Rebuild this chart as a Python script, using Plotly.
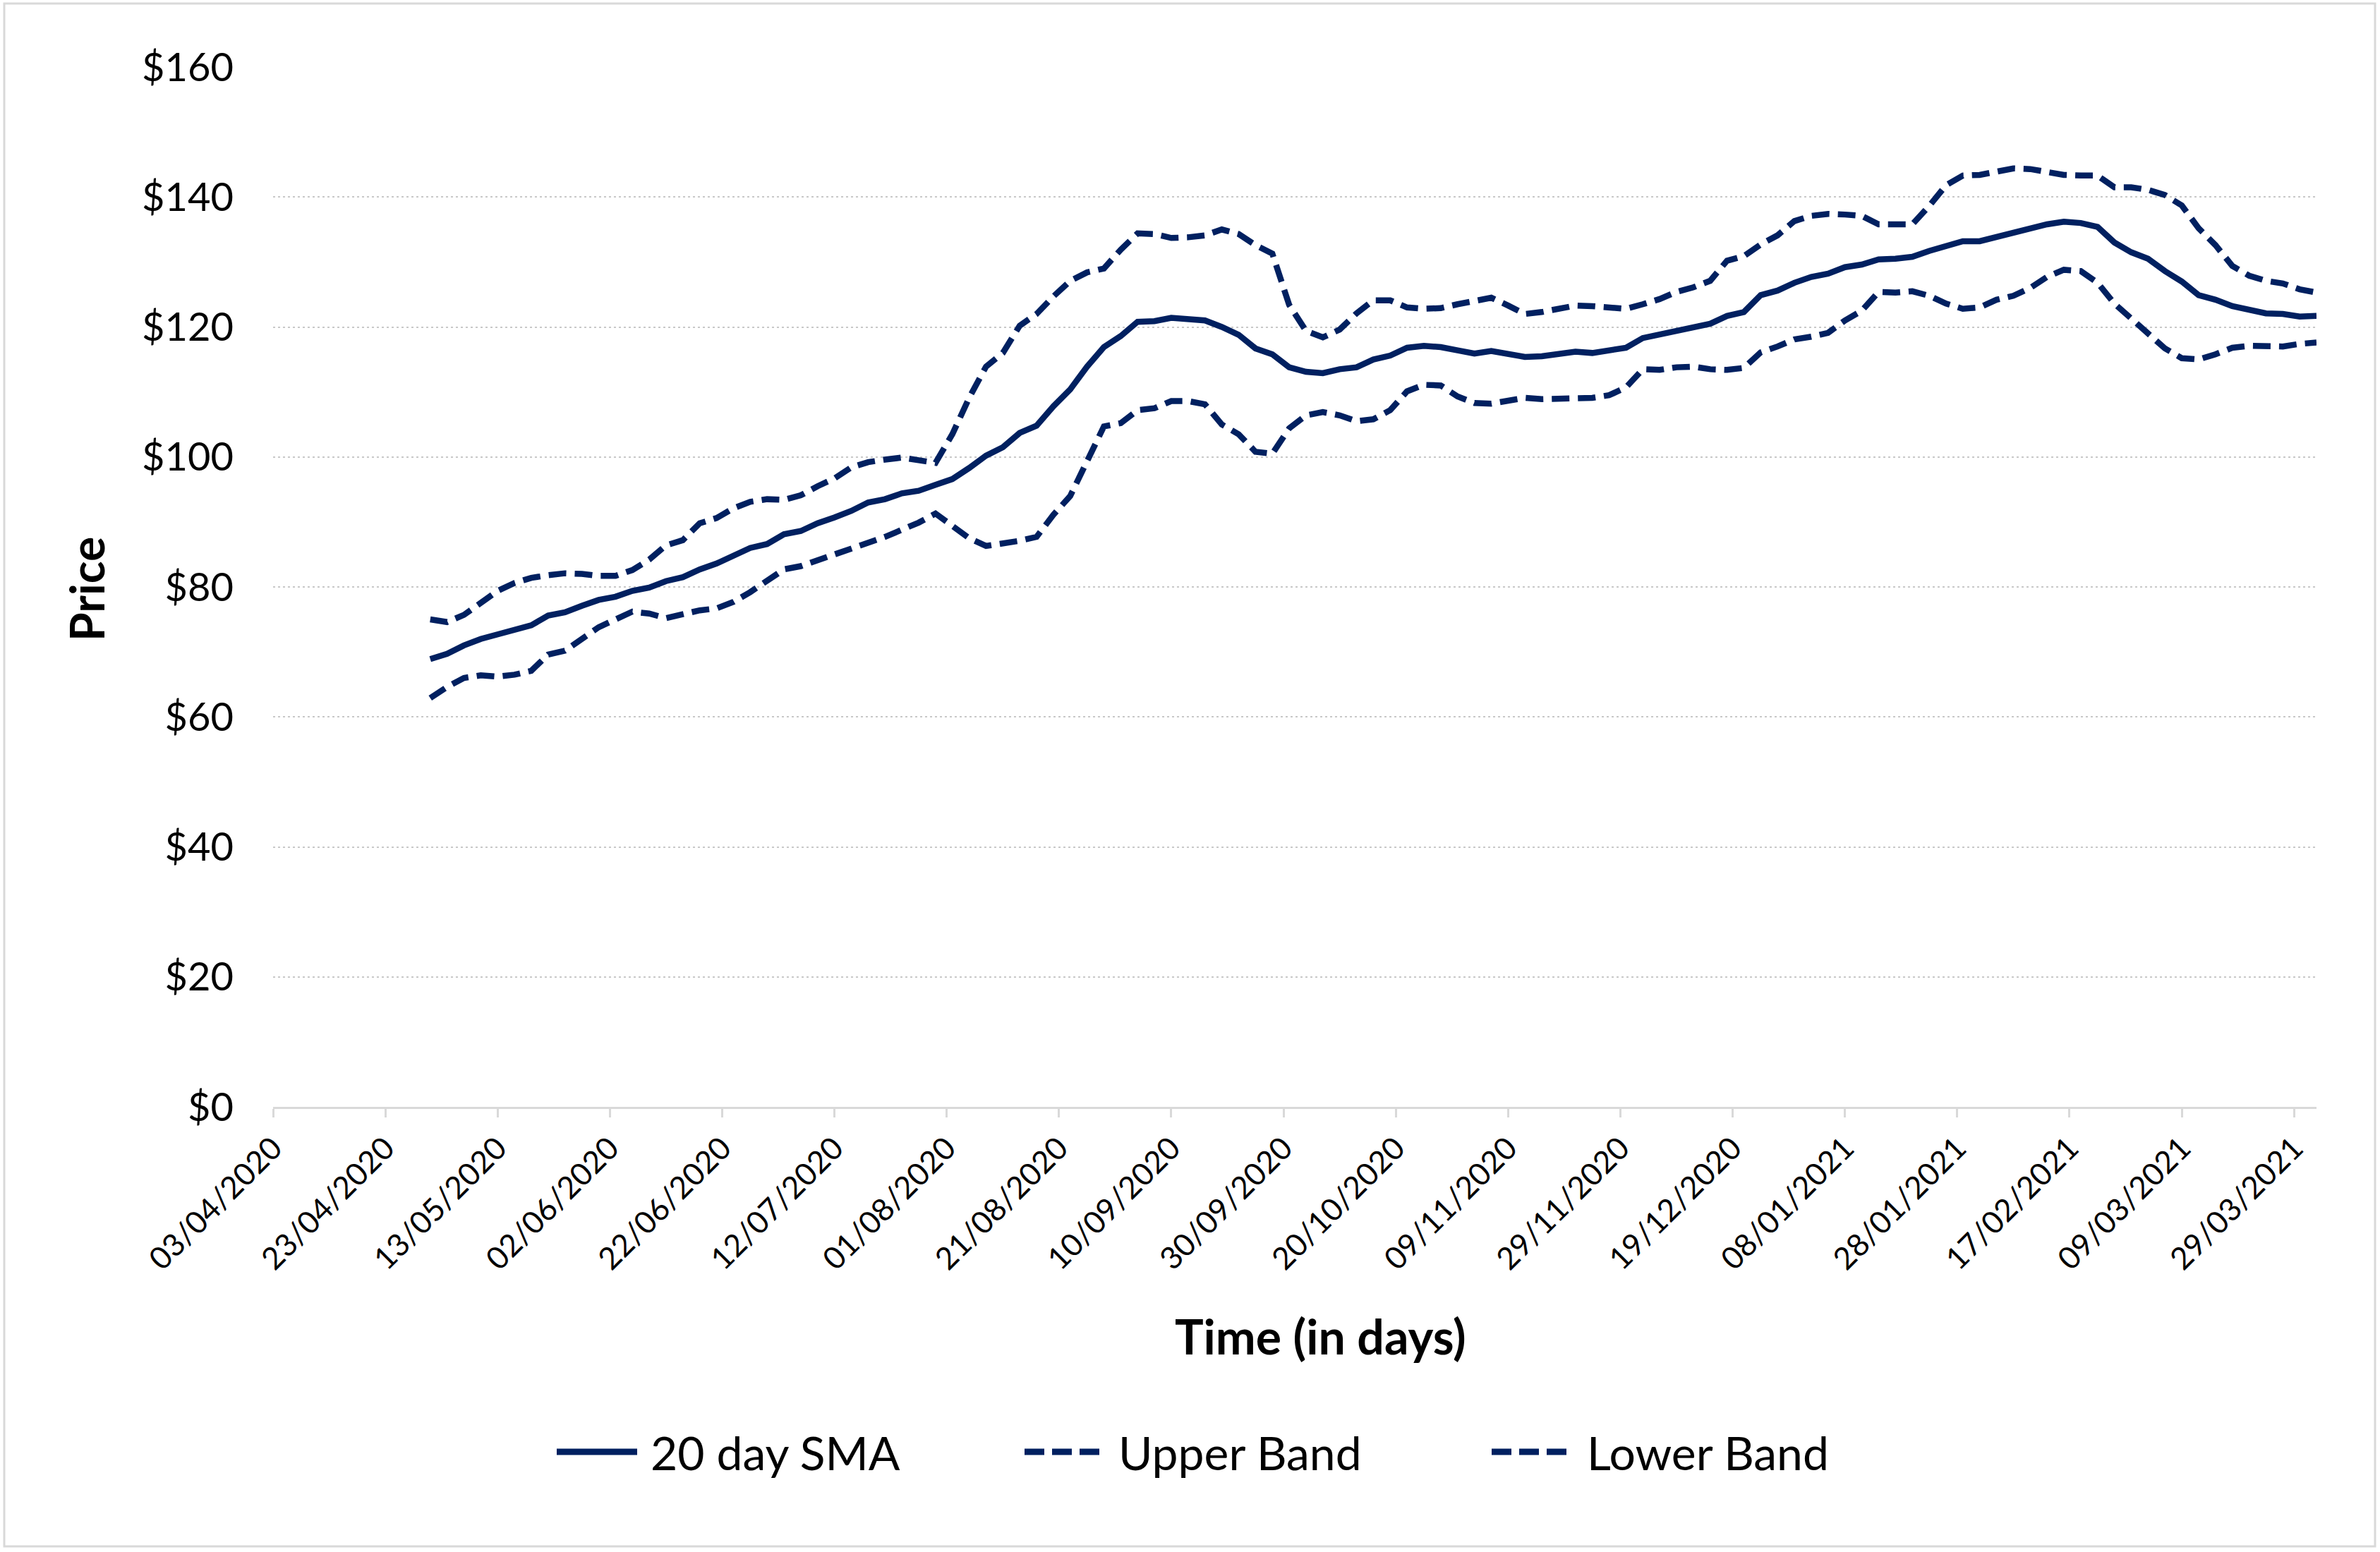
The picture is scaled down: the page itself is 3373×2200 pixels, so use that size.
import plotly.graph_objects as go
import pandas as pd

# ---- data ----
dates = pd.date_range("2020-05-01", periods=113, freq="3D")

sma_20 = [
    68.9, 69.7, 71.0, 72.0, 72.7, 73.5, 74.1, 75.6, 76.1, 77.1,
    78.0, 78.5, 79.4, 79.9, 80.9, 81.5, 82.7, 83.6, 84.7, 86.0,
    86.6, 88.1, 88.6, 89.8, 90.7, 91.7, 93.0, 93.5, 94.4, 94.8,
    95.7, 96.6, 98.3, 100.2, 101.5, 103.7, 104.8, 107.8, 110.4, 113.9,
    116.9, 118.6, 120.8, 120.9, 121.4, 121.3, 121.0, 120.0, 118.8, 116.7,
    115.8, 113.8, 113.1, 112.9, 113.5, 113.8, 115.0, 115.6, 116.8, 117.1,
    116.9, 116.4, 115.9, 116.3, 115.9, 115.4, 115.5, 115.8, 116.2, 116.0,
    116.4, 116.8, 118.3, 118.8, 119.4, 120.0, 120.5, 121.7, 122.3, 124.9,
    125.6, 126.8, 127.7, 128.2, 129.2, 129.6, 130.4, 130.5, 130.8, 131.7,
    132.5, 133.2, 133.2, 133.9, 134.5, 135.1, 135.8, 136.2, 136.0, 135.4,
    133.0, 131.5, 130.5, 128.6, 127.0, 124.9, 124.2, 123.2, 122.6, 122.1,
    122.0, 121.6, 121.7,
]

upper_band = [
    75.0, 74.6, 75.7, 77.6, 79.4, 80.6, 81.4, 81.8, 82.1, 82.0,
    81.7, 81.7, 82.6, 84.2, 86.4, 87.2, 89.8, 90.6, 92.1, 93.1,
    93.5, 93.4, 94.1, 95.5, 96.7, 98.4, 99.2, 99.6, 99.9, 99.5,
    99.1, 103.5, 109.1, 113.9, 116.0, 120.2, 122.0, 124.7, 127.1, 128.4,
    129.0, 131.9, 134.4, 134.3, 133.7, 133.8, 134.1, 135.0, 134.3, 132.6,
    131.3, 123.4, 119.4, 118.4, 119.6, 122.1, 124.1, 124.1, 123.0, 122.8,
    122.9, 123.5, 124.0, 124.5, 123.3, 122.0, 122.3, 122.9, 123.3, 123.2,
    123.0, 122.8, 123.5, 124.3, 125.4, 126.1, 127.1, 130.2, 130.9, 132.7,
    134.1, 136.3, 137.1, 137.4, 137.3, 137.1, 135.8, 135.7, 135.8, 138.6,
    141.8, 143.3, 143.4, 143.9, 144.4, 144.3, 143.8, 143.4, 143.3, 143.3,
    141.5, 141.5, 141.1, 140.3, 138.7, 135.2, 132.6, 129.4, 127.9, 127.1,
    126.7, 125.8, 125.3,
]

lower_band = [
    62.9, 64.6, 66.0, 66.4, 66.2, 66.5, 67.1, 69.6, 70.2, 72.0,
    73.8, 75.0, 76.2, 75.9, 75.2, 75.8, 76.4, 76.7, 77.7, 79.2,
    80.9, 82.7, 83.2, 84.1, 85.0, 85.8, 86.7, 87.7, 88.8, 89.9,
    91.3, 89.5, 87.5, 86.3, 86.6, 87.1, 87.7, 91.1, 94.0, 99.1,
    104.7, 105.2, 107.2, 107.5, 108.6, 108.6, 108.1, 105.0, 103.5, 100.8,
    100.5, 104.4, 106.4, 106.9, 106.4, 105.5, 105.8, 107.2, 110.1, 111.1,
    111.0, 109.3, 108.3, 108.2, 108.7, 109.1, 108.9, 108.9, 109.0, 109.1,
    109.5, 110.7, 113.5, 113.4, 113.8, 113.9, 113.5, 113.4, 113.7, 116.1,
    117.0, 118.1, 118.5, 119.1, 121.0, 122.5, 125.4, 125.3, 125.5, 124.8,
    123.6, 122.8, 123.0, 124.2, 124.8, 126.0, 127.7, 128.8, 128.6, 126.8,
    123.6, 121.4, 119.0, 116.7, 115.2, 115.0, 115.8, 116.8, 117.1, 117.1,
    117.0, 117.4, 117.6,
]

series_names = ["20 day SMA", "Upper Band", "Lower Band"]

# ---- styling ----
NAVY = "#002060"
FONT = "Lato, Carlito, Calibri, sans-serif"
W, H = 3373, 2200
L, R, T, B = 387, 90, 95, 631
PW, PH = W - L - R, H - T - B
DASH = "25px,12px"
LW = 8.5


def px_x(p):
    return (p - L) / PW


def px_y(p):
    return (H - B - p) / PH


fig = go.Figure()
fig.add_trace(go.Scatter(x=dates, y=sma_20, mode="lines", name=series_names[0],
                         line=dict(color=NAVY, width=LW)))
fig.add_trace(go.Scatter(x=dates, y=upper_band, mode="lines", name=series_names[1],
                         line=dict(color=NAVY, width=LW, dash=DASH)))
fig.add_trace(go.Scatter(x=dates, y=lower_band, mode="lines", name=series_names[2],
                         line=dict(color=NAVY, width=LW, dash=DASH)))

shapes = []
annotations = []

# chart border
shapes.append(dict(type="rect", xref="paper", yref="paper",
                   x0=px_x(6), x1=px_x(3366), y0=px_y(2192), y1=px_y(5),
                   line=dict(color="#D9D9D9", width=3), fillcolor="rgba(0,0,0,0)", layer="below"))

# axis titles
annotations.append(dict(text="<b>Price</b>", xref="paper", yref="paper",
                        x=px_x(123), y=px_y(835), textangle=-90, showarrow=False,
                        xanchor="center", yanchor="middle",
                        font=dict(family=FONT, size=66, color="black")))
annotations.append(dict(text="<b>Time (in days)</b>", xref="paper", yref="paper",
                        x=px_x(1871), y=px_y(1893), showarrow=False,
                        xanchor="center", yanchor="middle",
                        font=dict(family=FONT, size=68, color="black")))

# custom legend
leg_y = px_y(2058)
legend_items = [
    (series_names[0], 789, 903, 920, None),
    (series_names[1], 1452, 1562, 1583, "28px,11px"),
    (series_names[2], 2114, 2224, 2247, "28px,11px"),
]
for name, x0, x1, xt, dash in legend_items:
    ln = dict(color=NAVY, width=9)
    if dash:
        ln["dash"] = dash
    shapes.append(dict(type="line", xref="paper", yref="paper",
                       x0=px_x(x0), x1=px_x(x1), y0=leg_y, y1=leg_y, line=ln))
    annotations.append(dict(text=name, xref="paper", yref="paper",
                            x=px_x(xt), y=leg_y, showarrow=False,
                            xanchor="left", yanchor="middle",
                            font=dict(family=FONT, size=66, color="black")))

fig.update_layout(
    width=W, height=H, autosize=False,
    margin=dict(l=L, r=R, t=T, b=B, autoexpand=False),
    paper_bgcolor="white", plot_bgcolor="white",
    showlegend=False,
    font=dict(family=FONT, color="black"),
    shapes=shapes, annotations=annotations,
    xaxis=dict(
        type="date",
        range=["2020-04-03", "2021-04-02"],
        tick0="2020-04-03", dtick=20 * 86400000,
        tickformat="%d/%m/%Y", tickangle=-45,
        tickfont=dict(family=FONT, size=44, color="black"),
        showgrid=False, zeroline=False,
        showline=True, linecolor="#D9D9D9", linewidth=3,
        ticks="outside", ticklen=12, tickwidth=3, tickcolor="#D9D9D9",
    ),
    yaxis=dict(
        range=[0, 160], dtick=20, tick0=0,
        tickprefix="$", tickformat="d",
        tickfont=dict(family=FONT, size=56, color="black"),
        showgrid=True, gridcolor="#C8C8C8", gridwidth=2, griddash="3px,4px",
        zeroline=False, showline=False, ticks="",
        ticklabelstandoff=55,
    ),
)

fig.write_html("out.html",
               config={"displayModeBar": False},
               post_script="document.body.style.margin='0';document.body.style.overflow='hidden';")
